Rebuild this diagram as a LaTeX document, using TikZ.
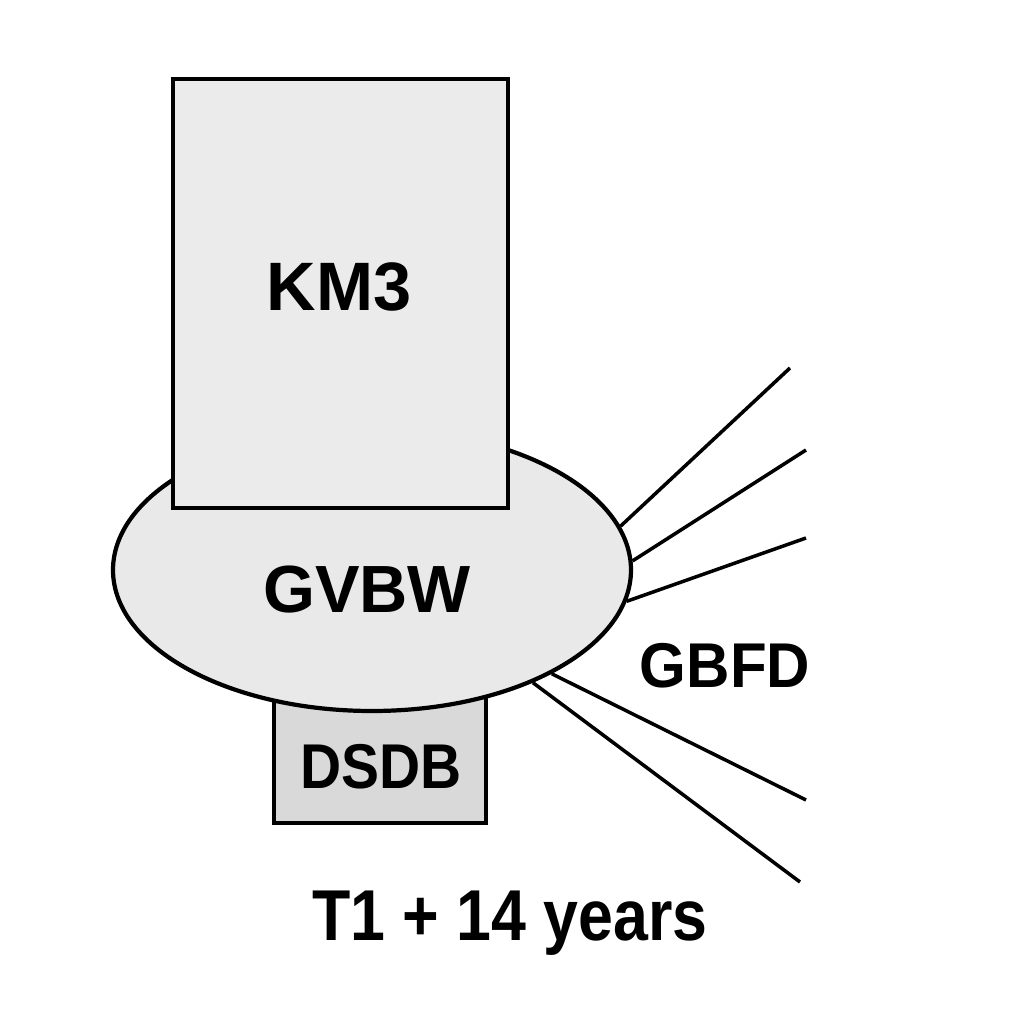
\documentclass[tikz,border=0pt]{standalone}
\usepackage{fontspec}
\setmainfont{Liberation Sans}
\usepackage{tikz}
\usetikzlibrary{shapes.geometric}

\definecolor{km3gray}{HTML}{EBEBEB}
\definecolor{ovalgray}{HTML}{E9E9E9}
\definecolor{dsdbgray}{HTML}{D9D9D9}

\tikzset{
  partbox/.style={rectangle, draw, line width=1.2pt, inner sep=0pt},
  lbl/.style={anchor=base, inner sep=0pt, font=\bfseries},
  ray/.style={line width=1pt}
}

\begin{document}
\begin{tikzpicture}
                \useasboundingbox (0,0) rectangle (10.24,10.24);

                % Nodes
                \node[partbox, fill=dsdbgray, minimum width=2.12cm, minimum height=1.33cm] (dsdb) at (3.80,2.675) {};
                \node[ellipse, draw, line width=1.2pt, fill=ovalgray, minimum width=5.18cm, minimum height=2.82cm, inner sep=0pt] (gvbw) at (3.72,4.54) {};
                \node[partbox, fill=km3gray, minimum width=3.35cm, minimum height=4.29cm] (km3) at (3.405,7.305) {};

                \node[lbl, font=\bfseries\fontsize{19.5}{22}\selectfont] (km3label) at (3.39,7.13) {KM3};
                \node[lbl, font=\bfseries\fontsize{19}{22}\selectfont] (gvbwlabel) at (3.67,4.11) {GVBW};
                \node[lbl, font=\bfseries\fontsize{18}{20}\selectfont, xscale=0.9, transform shape] (dsdblabel) at (3.81,2.36) {DSDB};
                \node[lbl, font=\bfseries\fontsize{18}{21}\selectfont, xscale=0.95, transform shape] (gbfdlabel) at (7.25,3.36) {GBFD};
                \node[lbl, font=\bfseries\fontsize{20.5}{24}\selectfont, xscale=0.87, transform shape] (timelabel) at (5.10,0.84) {T1 + 14 years};

                \coordinate (e1) at (7.90,6.56);
                \coordinate (e2) at (8.06,5.74);
                \coordinate (e3) at (8.06,4.86);
                \coordinate (e4) at (8.06,2.24);
                \coordinate (e5) at (8.00,1.42);

                % Edges
                \draw[ray] (gvbw.10.6)--(e1);
                \draw[ray] (gvbw.2.9)--(e2);
                \draw[ray] (gvbw.-7.1)--(e3);
                \draw[ray] (gvbw.-30)--(e4);
                \draw[ray] (gvbw.-35)--(e5);
            \end{tikzpicture}
\end{document}
